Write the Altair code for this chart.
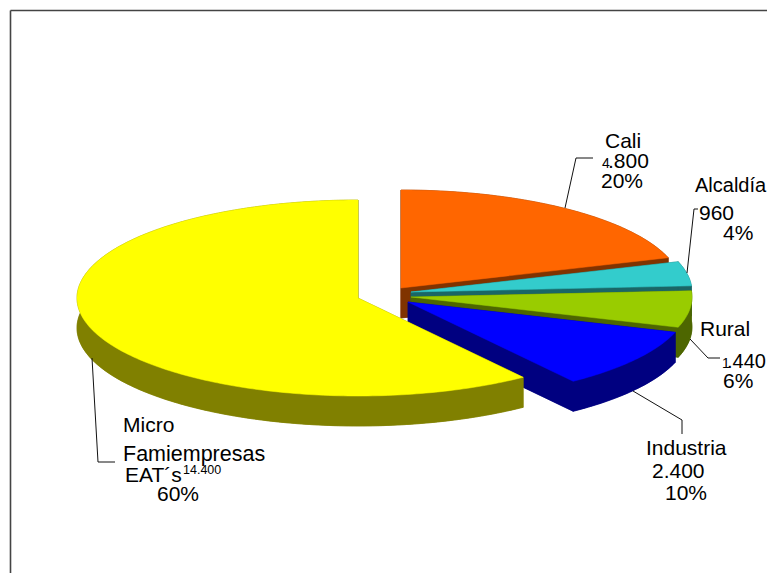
import math
import altair as alt

# ---- chart values ----
categories = ["Cali", "Alcaldía", "Rural", "Industria", "Micro Famiempresas EAT´s"]
values = [4800, 960, 1440, 2400, 14400]
top_colors = ["#FF6600", "#33CCCC", "#99CC00", "#0000FF", "#FFFF00"]
side_colors = ["#803300", "#1A6666", "#4D6600", "#000080", "#808000"]

# ---- layout of the tilted pie (page pixels) ----
apex_x = [401, 411, 411, 408, 358]
apex_y = [288, 292, 297, 302, 298]
RX, RY, DEPTH = 281, 98, 30

FONT = "Liberation Sans"
label_rows = [
    ("Cali", 605, 148, 21), ("4", 602, 168, 14), (".800", 608, 168, 21), ("20%", 601, 188, 21),
    ("Alcaldía", 695, 192, 20), ("960", 699, 220, 21), ("4%", 723, 240, 21),
    ("Rural", 700, 336, 21), ("1", 722, 368, 14), (".440", 727, 368, 20), ("6%", 723, 388, 21),
    ("Industria", 646, 455, 21), ("2.400", 652, 478, 21), ("10%", 665, 500, 21),
    ("Micro", 123, 432, 21), ("Famiempresas", 123, 461, 21.5), ("EAT´s", 125, 482, 21),
    ("14.400", 183, 474, 12.5), ("60%", 157, 501, 21),
]
leaders = [
    [(593, 158), (576, 158), (565, 208)],
    [(698, 209), (694, 209), (687, 273)],
    [(720, 358), (708, 358), (690, 339)],
    [(682, 434), (682, 420), (633, 391)],
    [(115, 462), (98, 462), (92, 358)],
]
frame = [[(10.5, 10.5), (767, 10.5)], [(10.5, 10.5), (10.5, 573)]]

x_scale = alt.Scale(domain=[8, 767], range=[0, 759], nice=False, zero=False)
y_scale = alt.Scale(domain=[573, 8], range=[565, 0], nice=False, zero=False)
X = alt.X("x:Q", scale=x_scale, axis=None)
Y = alt.Y("y:Q", scale=y_scale, axis=None)


def rim(cx, cy, a0, a1, dy=0):
    n = max(2, int(abs(a1 - a0)))
    pts = []
    for k in range(n + 1):
        a = math.radians(a0 + (a1 - a0) * k / n)
        pts.append((cx + RX * math.sin(a), cy - RY * math.cos(a) + dy))
    return pts


def shape_rows(polys):
    rows = []
    for pid, poly in enumerate(polys):
        for i, (x, y) in enumerate(poly + [poly[0]]):
            rows.append({"x": x, "y": y, "poly": pid, "i": i})
    return rows


def poly_layer(polys, color):
    return (
        alt.Chart(alt.Data(values=shape_rows(polys)))
        .mark_line(fill=color, stroke=color, strokeWidth=0.5, interpolate="linear")
        .encode(x=X, y=Y, detail="poly:N", order="i:Q")
    )


layers = []
total = sum(values)
start = 0.0
for val, top, side, cx, cy in zip(values, top_colors, side_colors, apex_x, apex_y):
    end = start + 360.0 * val / total
    edge = rim(cx, cy, start, end)
    low = rim(cx, cy, start, end, DEPTH)
    apex = (cx, cy)
    apex_low = (cx, cy + DEPTH)
    sides = [
        [apex_low] + low,
        [apex, edge[0], low[0], apex_low],
        [apex, edge[-1], low[-1], apex_low],
        edge + low[::-1],
    ]
    layers.append(poly_layer(sides, side))
    layers.append(poly_layer([[apex] + edge], top))
    start = end

frame_rows = [{"x": x, "y": y, "k": k, "i": i} for k, seg in enumerate(frame) for i, (x, y) in enumerate(seg)]
layers.append(
    alt.Chart(alt.Data(values=frame_rows))
    .mark_line(color="#444444", strokeWidth=1.6)
    .encode(x=X, y=Y, detail="k:N", order="i:Q")
)

leader_rows = [{"x": x, "y": y, "k": k, "i": i} for k, seg in enumerate(leaders) for i, (x, y) in enumerate(seg)]
layers.append(
    alt.Chart(alt.Data(values=leader_rows))
    .mark_line(color="#111111", strokeWidth=1)
    .encode(x=X, y=Y, detail="k:N", order="i:Q")
)

text_rows = [{"t": t, "x": x, "y": y, "s": s} for t, x, y, s in label_rows]
layers.append(
    alt.Chart(alt.Data(values=text_rows))
    .mark_text(font=FONT, align="left", baseline="alphabetic", color="#000000")
    .encode(x=X, y=Y, text="t:N", size=alt.Size("s:Q", scale=None, legend=None))
)

chart = (
    alt.layer(*layers)
    .properties(width=759, height=565, padding=0, background="white",
                autosize=alt.AutoSizeParams(type="none"))
    .configure_view(stroke=None)
)
chart.save("out.html", embed_options={"renderer": "svg", "actions": False})
